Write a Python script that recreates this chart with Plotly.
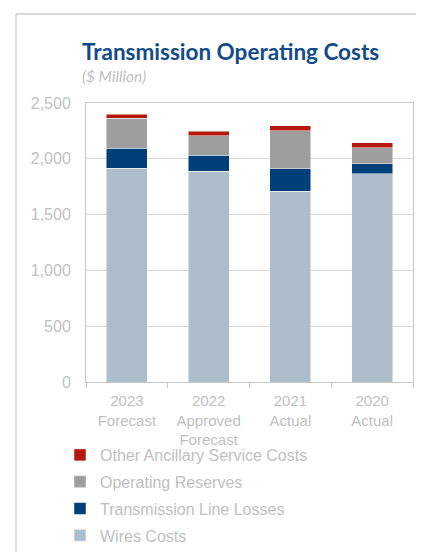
import plotly.graph_objects as go

categories = ["2023<br>Forecast", "2022<br>Approved<br>Forecast", "2021<br>Actual", "2020<br>Actual"]
wires_costs = [1915, 1890, 1710, 1865]
line_losses = [180, 140, 200, 90]
operating_reserves = [270, 175, 340, 145]
other_ancillary = [35, 40, 45, 45]

series_names = ["Wires Costs", "Transmission Line Losses", "Operating Reserves", "Other Ancillary Service Costs"]
series_values = [wires_costs, line_losses, operating_reserves, other_ancillary]
series_colors = ["#ADBDCB", "#00407A", "#9E9E9E", "#B3190F"]
legend_ranks = [4, 3, 2, 1]

# page body has an 8px margin: work in screen coords and shift
OFF = 8
W, H = 424 - OFF, 552 - OFF
L, R, T, B = 86 - OFF, 413 - OFF, 103 - OFF, 382 - OFF

def px(x):  # screen x -> paper
    return (x - OFF - L) / (R - L)

def py(y):  # screen y -> paper
    return (B - (y - OFF)) / (B - T)

fig = go.Figure()
for name, vals, col, rank in zip(series_names, series_values, series_colors, legend_ranks):
    fig.add_trace(go.Bar(
        x=categories, y=vals, name=name, legendgroup=name, legendrank=rank,
        marker=dict(color=col, line=dict(color="rgba(255,255,255,0.6)", width=0.8)),
        width=0.5,
    ))

txt = "#BFBFBF"
border = dict(color="#D9D9D9", width=2)
fig.update_layout(
    width=W, height=H,
    margin=dict(l=L, r=W - R, t=T, b=H - B, autoexpand=False),
    barmode="stack",
    paper_bgcolor="white", plot_bgcolor="white",
    font=dict(family="Liberation Sans, Arial, sans-serif", size=16, color=txt),
    showlegend=True,
    legend=dict(
        x=px(60), y=py(438), xanchor="left", yanchor="top",
        traceorder="grouped", tracegroupgap=3,
        font=dict(size=16, color=txt),
        bgcolor="rgba(0,0,0,0)",
    ),
    xaxis=dict(
        showline=True, linecolor="#C8C8C8", linewidth=1, mirror=True,
        ticks="outside", tickson="boundaries", ticklen=5, tickcolor="#C8C8C8",
        tickfont=dict(size=15, color=txt), ticklabelstandoff=5,
        showgrid=False,
    ),
    yaxis=dict(
        range=[0, 2500], dtick=500, tickformat=",",
        showline=True, linecolor="#C8C8C8", linewidth=1, mirror=True,
        gridcolor="#D9D9D9", gridwidth=1, zeroline=False,
        tickfont=dict(size=16, color=txt),
        ticks="", ticklabelstandoff=11,
    ),
    shapes=[
        dict(type="line", xref="paper", yref="paper",
             x0=px(16), x1=px(440), y0=py(14), y1=py(14), line=border, layer="below"),
        dict(type="line", xref="paper", yref="paper",
             x0=px(16), x1=px(16), y0=py(14), y1=py(570), line=border, layer="below"),
    ],
    annotations=[
        dict(text="<b>Transmission Operating Costs</b>", xref="paper", yref="paper",
             x=px(80), y=py(51), xanchor="left", yanchor="middle", showarrow=False,
             font=dict(family="Lato, Open Sans, sans-serif", size=22.5, color="#134B88")),
        dict(text="<i>($ Million)</i>", xref="paper", yref="paper",
             x=px(80), y=py(76), xanchor="left", yanchor="middle", showarrow=False,
             font=dict(family="Lato, Open Sans, sans-serif", size=15.5, color=txt)),
    ],
)

fig.write_html("out.html")
